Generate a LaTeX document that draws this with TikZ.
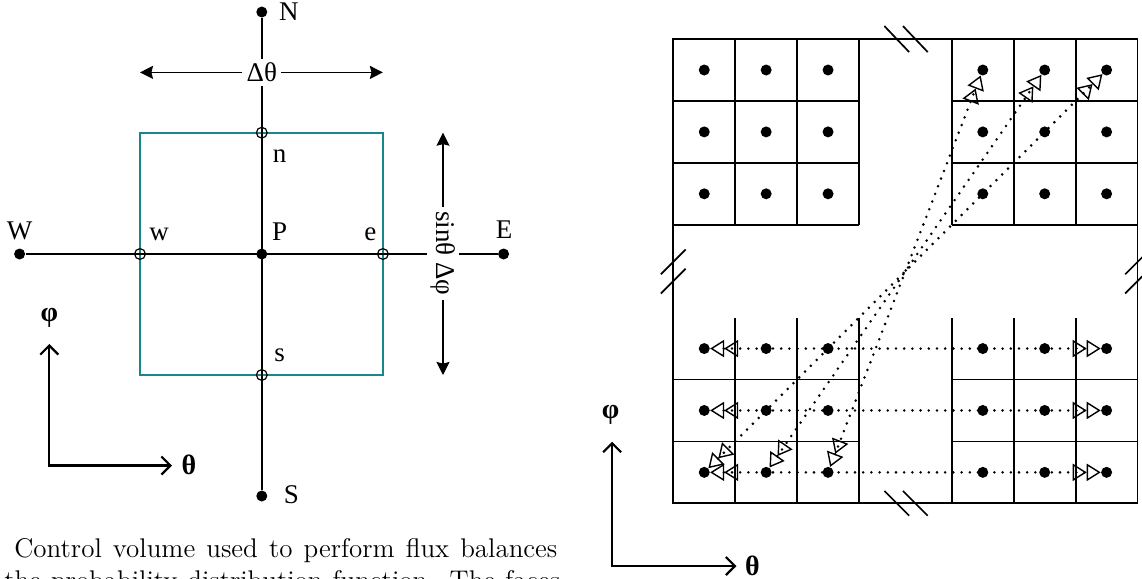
\documentclass[tikz,border=0pt]{standalone}
\usepackage{fontspec}
\newfontfamily\labelfont{Liberation Serif}
\usetikzlibrary{arrows.meta, positioning, backgrounds}
\definecolor{cvteal}{RGB}{24,134,138}

\tikzstyle{pdot} = [circle, fill=black, inner sep=0pt, minimum size=5.5pt]
\tikzstyle{facept} = [circle, draw=black, line width=0.6pt, inner sep=0pt, minimum size=5.4pt]
\tikzstyle{lbl} = [font=\labelfont\fontsize{13.5}{15}\selectfont, inner sep=1pt]
\tikzstyle{axlbl} = [font=\labelfont\bfseries\fontsize{14}{15}\selectfont, inner sep=1pt]
\tikzstyle{caption} = [anchor=base west, inner sep=0pt, font=\fontsize{13.5}{16}\selectfont]
\tikzstyle{gridline} = [line width=0.85pt]
\tikzstyle{dimarrow} = [line width=0.8pt, -{Stealth[length=6.5pt,width=6.5pt,inset=0.8pt]}]
\tikzstyle{axarrow} = [line width=1.1pt, {Straight Barb[length=4.5pt,width=9pt]}-{Straight Barb[length=4.5pt,width=9pt]}]
\tikzset{fluxtip/.tip={Triangle[open,length=7pt,width=8.6pt,line width=0.7pt,sep=0pt] Triangle[open,length=7pt,width=8.6pt,line width=0.7pt,sep=0pt]}}
\tikzstyle{flux} = [line width=1.4pt, line cap=round, dash pattern=on 0pt off 4.1pt, fluxtip-fluxtip]

\begin{document}
\begin{tikzpicture}[x=0.5pt, y=-0.5pt]
\useasboundingbox (0,0) rectangle (1142,579);

% control volume
\node (P) [pdot] at (261.8,254) {};
\node (N) [pdot] at (261.8,12) {};
\node (S) [pdot] at (261.8,496) {};
\node (W) [pdot] at (19.6,254) {};
\node (E) [pdot] at (503.6,254) {};
\node (n) [facept] at (261.8,132.7) {};
\node (s) [facept] at (261.8,375) {};
\node (w) [facept] at (140,254) {};
\node (e) [facept] at (382.9,254) {};

\node (lN) [lbl, right=4.5pt of N] {N};
\node (lS) [lbl, anchor=base] at (291.4,503.3) {S};
\node (lW) [lbl, anchor=base] at (19.6,239.3) {W};
\node (lE) [lbl, anchor=base] at (504,238.3) {E};
\node (lP) [lbl, anchor=base] at (279.6,240) {P};
\node (lw) [lbl, anchor=base] at (159,240) {w};
\node (le) [lbl, anchor=base] at (370.4,240) {e};
\node (ln) [lbl, anchor=base] at (279.6,162.3) {n};
\node (ls) [lbl, anchor=base] at (279.6,361.7) {s};

\node (dth) [lbl, fill=white, inner sep=2pt, anchor=base] at (261.8,81.7) {Δθ};
\node (sinl) [lbl, fill=white, inner sep=2pt, rotate=-90] at (443,253.3) {sinθ Δφ};
\coordinate (dthL) at (w |- dth);
\coordinate (dthR) at (e |- dth);
\coordinate (sinT) at (sinl |- n);
\coordinate (sinB) at (sinl |- s);

\begin{scope}[on background layer]
\draw[cvteal, line width=1.2pt] (w |- n) rectangle (e |- s);
\draw[line width=0.9pt] (N) -- (S);
\draw[line width=0.9pt] (W) -- (E);
\end{scope}

\draw[dimarrow] (dth) -- (dthL);
\draw[dimarrow] (dth) -- (dthR);
\draw[dimarrow] (sinl) -- (sinT);
\draw[dimarrow] (sinl) -- (sinB);

% angle axes
\coordinate (phiA) at (49.3,344);
\coordinate (thA) at (172,465.5);
\draw[axarrow] (phiA) |- (thA);
\node (lphiA) [axlbl] at (49.3,318) {φ};
\node (lthA) [axlbl] at (189,465) {θ};

\coordinate (phiB) at (612.1,441.7);
\coordinate (thB) at (736.5,566);
\draw[axarrow] (phiB) |- (thB);
\node (lphiB) [axlbl] at (610.5,414.5) {φ};
\node (lthB) [axlbl] at (752.5,566) {θ};

\node (cap1) [caption] at (14,557.7) {\makebox[271.5pt][s]{Control volume used to perform flux balances}};
\node (cap2) [caption] at (4,589.7) {\makebox[278pt][s]{the probability distribution function. The faces}};

% periodic grid
\begin{scope}[shift={(673.3,503.3)}, x=30.95pt, y=30.95pt]
  \draw[gridline] (0,0) rectangle (7.5,7.5);
  \foreach \x in {1,2,3,4.5,5.5,6.5} {
    \draw[gridline] (\x,0) -- (\x,3);
    \draw[gridline] (\x,4.5) -- (\x,7.5);
  }
  \foreach \y in {1,2,4.5,5.5,6.5} {
    \draw[gridline] (0,\y) -- (3,\y);
    \draw[gridline] (4.5,\y) -- (7.5,\y);
  }
  % breaks
  \foreach \x in {3.61,3.91} {
    \draw[gridline] (\x-0.2,7.71) -- (\x+0.2,7.29);
    \draw[gridline] (\x-0.2,0.2) -- (\x+0.2,-0.2);
  }
  \foreach \y in {3.59,3.9} {
    \draw[gridline] (-0.2,\y-0.2) -- (0.2,\y+0.2);
    \draw[gridline] (7.3,\y-0.2) -- (7.7,\y+0.2);
  }
  % cell centres
  \foreach \x [count=\i] in {0.5,1.5,2.5,5,6,7}
    \foreach \y [count=\j] in {0.5,1.5,2.5,5,6,7}
      \node (c\i\j) [pdot] at (\x,\y) {};
  % wrapped fluxes
  \foreach \j in {1,2,3}
    \draw[flux] (c1\j) -- (c6\j);
  \draw[flux] (c11) -- (c66);
  \draw[flux] (c21) -- (c56);
  \draw[flux] (c31) -- (c46);
\end{scope}

\end{tikzpicture}
\end{document}
